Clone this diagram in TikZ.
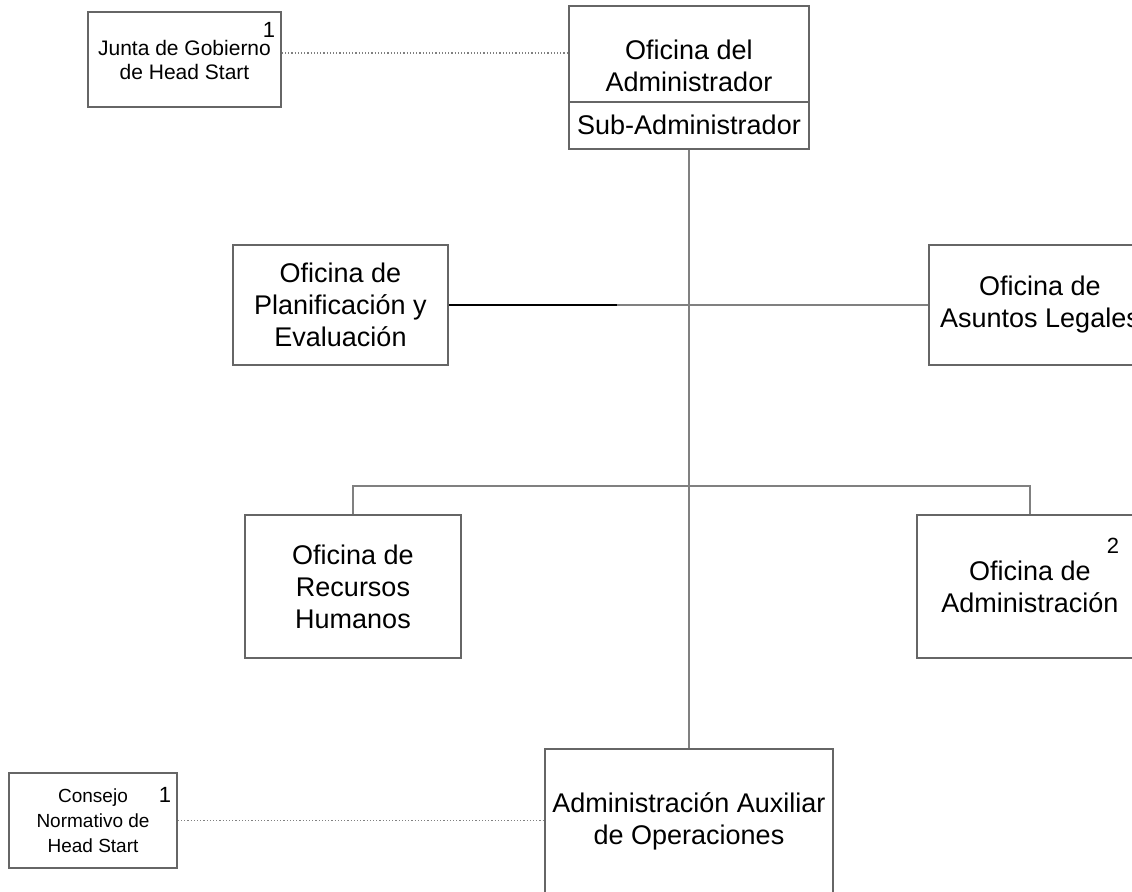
\documentclass[tikz,border=0pt]{standalone}
\usepackage{fontspec}
\setmainfont{Liberation Sans}
\usetikzlibrary{positioning}

\begin{document}
\begin{tikzpicture}[x=0.5pt, y=-0.5pt]

%my colors
\definecolor{boxgray}{rgb}{0.40, 0.40, 0.40}
\definecolor{linegray}{rgb}{0.50, 0.50, 0.50}

\tikzset{
    office/.style={draw=boxgray, line width=0.8pt, rectangle, align=center, inner sep=0pt,
        font=\fontsize{13.5}{16}\selectfont},
    smalloffice/.style={office, font=\fontsize{10.5}{12}\selectfont},
    note/.style={inner sep=0pt, font=\fontsize{11}{12}\selectfont},
    trunk/.style={draw=linegray, line width=0.9pt},
    advisory/.style={draw=linegray, line width=0.6pt, densely dotted}
}

    % page frame (boxes at the edge are cut)
    \useasboundingbox (0,0) rectangle (1132,891);
    \clip (0,0) rectangle (1132,891);

    % Administrator at the top
    \node[office, minimum width=120pt, minimum height=71.5pt] (admin) at (689,77.5) {};
    \draw[boxgray, line width=0.8pt] (admin.west |- 0,102) coordinate (divW) -- (admin.east |- 0,102);
    \node[office, draw=none] (adminText) at (689,66) {Oficina del\\Administrador};
    \node[office, draw=none] (subAdmin) at (689,125) {Sub-Administrador};

    % Board of Head Start
    \node[smalloffice, minimum width=96.5pt, minimum height=47.5pt] (junta) at (184.5,59.5) {Junta de Gobierno\\de Head Start};
    \node[note] (juntaNum) at (269,30) {1};

    % staff offices
    \node[office, minimum width=107.5pt, minimum height=60pt] (plan) at (340.5,305) {Oficina de\\Planificación y\\Evaluación};
    \node[office, minimum width=111pt, minimum height=60pt] (legal) at (1040,305) {Oficina de\\Asuntos Legales};

    % line offices
    \node[office, minimum width=108pt, minimum height=71.5pt] (rrhh) at (353,586.5) {Oficina de\\Recursos\\Humanos};
    \node[office, minimum width=113pt, minimum height=71.5pt] (adminOf) at (1030,586.5) {Oficina de\\Administración};
    \node[note] (adminNum) at (1113,546) {2};

    % auxiliary administration at the bottom
    \node[office, minimum width=144pt, minimum height=72pt] (aux) at (689,821) {Administración Auxiliar\\de Operaciones};

    % Head Start policy council
    \node[smalloffice, font=\fontsize{9.5}{12.5}\selectfont, minimum width=84pt, minimum height=47.5pt] (consejo) at (93,820.5) {Consejo\\Normativo de\\Head Start};
    \node[note] (consejoNum) at (165,795) {1};

    % connectors
    \coordinate (bus) at (689,486);
    \coordinate (planEnd) at (617,305);
    \draw[trunk] (admin.south) -- (aux.north);
    \draw[trunk] (rrhh.north) |- (bus) -| (adminOf.north);
    \draw[black, line width=1pt] (plan.east) -- (planEnd);
    \draw[trunk] (planEnd) -- (legal.west);
    \draw[advisory] (junta.east |- 0,53) -- (admin.west |- 0,53);
    \draw[advisory] (consejo.east) -- (aux.west |- consejo.east);

\end{tikzpicture}
\end{document}
